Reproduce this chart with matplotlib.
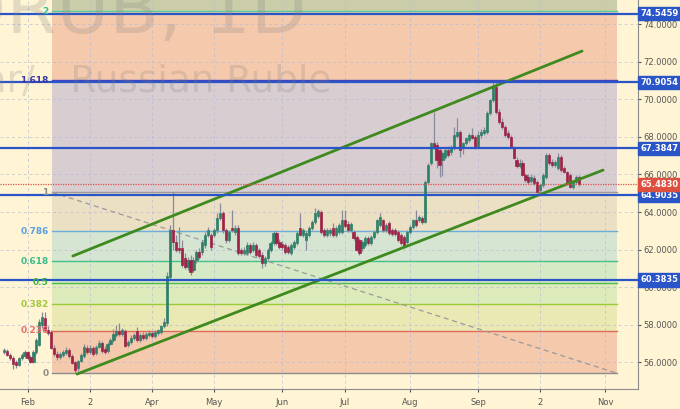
import numpy as np
import pandas as pd
import matplotlib
matplotlib.use("Agg")
import matplotlib.pyplot as plt
from matplotlib.transforms import blended_transform_factory

# ---------------- data ----------------
dates = pd.bdate_range("2018-01-22", periods=195)

opens = [56.55, 56.61, 56.39, 56.23, 56.02, 55.86, 56.23, 56.34, 56.55, 56.28,
         56.02, 56.55, 56.93, 57.99, 58.36, 57.72, 57.61, 56.77, 56.45, 56.28,
         56.39, 56.50, 56.66, 56.34, 56.02, 55.70, 56.07, 56.34, 56.77, 56.55,
         56.77, 56.50, 56.82, 57.03, 56.71, 56.61, 56.98, 57.19, 57.46, 57.67,
         57.51, 57.67, 56.93, 57.09, 57.30, 57.67, 57.19, 57.46, 57.30, 57.46,
         57.56, 57.40, 57.56, 57.61, 57.93, 58.10, 60.54, 63.04, 62.40, 62.08,
         62.08, 61.55, 61.07, 61.45, 60.91, 61.45, 61.87, 61.87, 62.24, 62.78,
         62.78, 62.78, 63.04, 63.68, 63.95, 63.04, 62.51, 63.15, 62.94, 63.15,
         61.98, 61.82, 61.82, 62.24, 61.98, 62.24, 61.98, 61.71, 61.29, 61.55,
         61.98, 62.35, 62.88, 62.40, 62.30, 62.24, 62.14, 61.82, 62.14, 62.35,
         63.15, 62.78, 62.51, 62.78, 63.15, 63.47, 63.79, 64.00, 63.04, 62.78,
         62.88, 63.15, 62.78, 62.94, 62.94, 63.57, 63.36, 63.04, 62.94, 62.67,
         62.51, 62.08, 62.24, 62.62, 62.35, 62.67, 62.94, 63.31, 63.57, 63.04,
         63.41, 63.04, 63.04, 62.94, 62.78, 62.67, 62.40, 62.94, 63.20, 63.57,
         63.57, 63.68, 63.47, 65.60, 66.61, 67.67, 67.56, 67.30, 66.77, 66.93,
         67.30, 67.19, 67.40, 68.04, 68.26, 67.40, 67.67, 67.83, 68.10, 67.99,
         67.46, 68.10, 68.20, 68.26, 69.27, 69.96, 70.65, 69.32, 68.79, 68.52,
         68.20, 67.99, 67.40, 66.77, 66.45, 66.61, 65.97, 65.86, 65.65, 65.80,
         65.60, 65.17, 65.44, 65.86, 67.03, 66.66, 66.50, 66.34, 66.93, 66.34,
         66.13, 65.97, 65.33, 65.60, 65.86]

highs = [56.75, 56.70, 56.50, 56.35, 56.15, 56.30, 56.50, 56.65, 56.62, 56.40,
         56.65, 57.30, 58.30, 58.70, 58.70, 57.95, 57.70, 56.90, 56.60, 56.55,
         56.65, 56.80, 56.75, 56.45, 56.10, 56.15, 56.50, 57.00, 56.90, 56.90,
         56.85, 56.95, 57.20, 57.15, 56.85, 57.10, 57.30, 57.80, 58.00, 58.10,
         57.85, 57.80, 57.20, 57.45, 57.55, 57.90, 57.55, 57.60, 57.60, 57.70,
         57.65, 57.70, 57.80, 58.00, 58.35, 60.80, 63.30, 65.05, 62.80, 63.20,
         62.50, 61.80, 61.60, 61.70, 61.60, 62.00, 62.10, 62.50, 62.95, 63.20,
         62.90, 63.15, 63.95, 64.50, 64.05, 63.15, 63.05, 64.10, 63.30, 63.30,
         62.10, 62.15, 62.40, 62.35, 62.40, 62.35, 62.10, 61.85, 61.65, 62.10,
         62.45, 63.00, 63.00, 62.55, 62.45, 62.35, 62.25, 62.35, 62.50, 63.00,
         63.95, 63.15, 63.00, 63.25, 63.55, 64.20, 64.15, 64.10, 63.15, 63.15,
         63.15, 63.40, 63.25, 63.40, 64.10, 64.10, 63.50, 63.45, 63.05, 62.80,
         62.60, 62.50, 62.70, 62.75, 62.80, 63.05, 63.65, 63.95, 63.65, 63.40,
         63.50, 63.15, 63.15, 63.05, 62.90, 62.80, 63.05, 63.30, 63.65, 64.10,
         63.85, 63.80, 65.70, 66.60, 67.75, 69.32, 67.75, 67.45, 67.25, 67.40,
         67.50, 67.55, 68.50, 69.00, 68.35, 67.75, 68.00, 68.20, 68.47, 68.10,
         68.30, 68.40, 68.50, 69.35, 70.00, 70.90, 70.95, 69.50, 69.00, 68.65,
         68.35, 68.10, 67.50, 66.90, 66.80, 66.75, 66.10, 66.00, 66.00, 65.95,
         65.70, 65.50, 66.05, 67.14, 67.14, 66.80, 66.75, 67.14, 67.05, 66.45,
         66.20, 66.10, 65.65, 65.95, 65.95]

lows = [56.45, 56.35, 56.15, 55.65, 55.70, 55.80, 56.15, 56.25, 56.15, 55.95,
        55.95, 56.45, 56.85, 57.85, 57.60, 57.45, 56.70, 56.35, 56.15, 56.20,
        56.30, 56.40, 56.25, 55.90, 55.44, 55.55, 56.00, 56.25, 56.45, 56.45,
        56.35, 56.40, 56.75, 56.50, 56.45, 56.50, 56.90, 57.10, 57.35, 57.40,
        57.40, 56.80, 56.80, 57.00, 57.20, 57.10, 57.10, 57.20, 57.20, 57.35,
        57.30, 57.30, 57.45, 57.50, 57.85, 57.95, 60.40, 62.00, 61.85, 61.80,
        61.05, 60.95, 60.90, 60.65, 60.80, 61.30, 61.50, 61.70, 62.10, 62.65,
        62.00, 62.65, 62.90, 63.55, 62.90, 62.35, 62.40, 62.95, 62.80, 61.70,
        61.70, 61.70, 61.70, 61.75, 61.85, 61.60, 61.55, 61.02, 61.15, 61.45,
        61.85, 62.25, 62.25, 62.05, 62.00, 61.75, 61.75, 61.70, 62.05, 62.25,
        62.70, 62.65, 61.98, 62.65, 63.05, 63.35, 63.70, 62.85, 62.65, 62.65,
        62.75, 62.65, 62.65, 62.85, 62.85, 63.15, 62.95, 62.95, 62.50, 61.90,
        61.70, 61.95, 62.15, 62.25, 62.25, 62.55, 62.85, 63.20, 62.95, 62.95,
        62.80, 62.75, 62.75, 62.40, 62.25, 62.10, 62.30, 62.85, 63.10, 63.20,
        63.45, 63.35, 63.40, 65.50, 66.50, 67.35, 66.34, 65.86, 65.90, 66.80,
        66.95, 67.05, 67.30, 67.95, 66.93, 67.10, 67.55, 67.70, 67.90, 67.35,
        67.40, 67.95, 68.10, 68.15, 69.15, 69.85, 69.20, 68.70, 68.40, 68.00,
        67.90, 67.40, 66.80, 66.35, 66.35, 65.90, 65.60, 65.50, 65.55, 65.45,
        65.00, 65.05, 65.35, 65.75, 66.50, 66.40, 66.40, 66.25, 66.15, 66.05,
        65.55, 65.28, 65.25, 65.50, 65.40]

closes = [56.66, 56.39, 56.23, 55.91, 55.86, 56.23, 56.39, 56.55, 56.23, 56.02,
          56.55, 57.19, 58.15, 58.41, 57.72, 57.56, 56.77, 56.45, 56.28, 56.45,
          56.55, 56.66, 56.34, 55.97, 55.60, 56.07, 56.39, 56.82, 56.55, 56.77,
          56.45, 56.82, 57.03, 56.61, 56.55, 56.98, 57.19, 57.51, 57.67, 57.51,
          57.72, 56.87, 57.09, 57.30, 57.46, 57.19, 57.46, 57.30, 57.51, 57.56,
          57.40, 57.61, 57.72, 57.93, 58.15, 60.59, 63.04, 62.40, 61.98, 61.98,
          61.18, 61.07, 61.45, 60.81, 61.45, 61.87, 61.61, 62.40, 62.78, 63.04,
          62.14, 63.04, 63.68, 63.95, 63.04, 62.51, 62.94, 63.04, 63.15, 61.82,
          61.82, 61.98, 62.24, 61.87, 62.24, 61.71, 61.66, 61.29, 61.55, 61.98,
          62.35, 62.88, 62.35, 62.14, 62.14, 61.87, 61.87, 62.24, 62.40, 62.88,
          62.78, 63.04, 62.88, 63.15, 63.47, 63.95, 64.05, 62.94, 62.78, 63.04,
          63.04, 62.78, 63.15, 63.31, 63.57, 63.25, 63.04, 63.36, 62.62, 61.98,
          61.82, 62.40, 62.62, 62.35, 62.67, 62.94, 63.57, 63.73, 63.04, 63.31,
          62.88, 62.83, 62.83, 62.51, 62.35, 62.24, 62.94, 63.20, 63.57, 63.31,
          63.73, 63.47, 65.60, 66.50, 67.67, 67.46, 66.77, 66.50, 67.14, 67.30,
          67.03, 67.46, 68.10, 68.26, 67.30, 67.67, 67.94, 68.10, 67.94, 67.46,
          68.10, 68.26, 68.36, 69.27, 69.96, 70.65, 69.32, 68.79, 68.52, 68.10,
          67.99, 67.46, 66.87, 66.45, 66.61, 65.97, 65.70, 65.60, 65.86, 65.54,
          65.06, 65.44, 65.97, 67.03, 66.61, 66.50, 66.66, 66.93, 66.23, 66.13,
          65.60, 65.33, 65.60, 65.86, 65.48]

# Fibonacci retracement (price of level 0 and level 1, anchors as bar positions)
fib_price0 = 55.42
fib_price1 = 65.05
fib_x_start = 16.3
fib_x_end = 206.9
fib_levels = [0, 0.236, 0.382, 0.5, 0.618, 0.786, 1, 1.618, 2]
fib_labels = ["0", "0.236", "0.382", "0.5", "0.618", "0.786", "1", "1.618", "2"]

# horizontal levels and last price
h_levels = [74.5459, 70.9054, 67.3847, 64.9035, 60.3835]
last_price = 65.4830

# channel trend lines (bar position, price)
channel_upper = [(23.3, 61.66), (195.1, 72.56)]
channel_lower = [(24.7, 55.38), (202.2, 66.23)]

price_ticks = [56, 58, 60, 62, 64, 66, 68, 70, 72, 74]
month_tick_dates = ["2018-02-01", "2018-03-02", "2018-04-02", "2018-05-01", "2018-06-01",
                    "2018-07-02", "2018-08-01", "2018-09-03", "2018-10-02", "2018-11-01"]
month_tick_labels = ["Feb", "2", "Apr", "May", "Jun", "Jul", "Aug", "Sep", "2", "Nov"]

# ---------------- style ----------------
BG = "#FFF4D3"
fill_colors = ["#F5C9AB", "#EAE8B3", "#DDEBBB", "#D6EAC6", "#D5E5D2",
               "#EBDFC4", "#D8CDD0", "#F5C9AB"]
fill_top = "#CACDA8"
fib_line_colors = ["#8C8C8C", "#E06A5E", "#9CCB3A", "#4CBB4C", "#44C08A",
                   "#6AAEDC", "#9A9A9A", "#4444BB", "#55CC99"]
fib_text_colors = ["#8C8C8C", "#E86F6F", "#A2C83E", "#3DB643", "#3DBB8C",
                   "#5AA0E0", "#8C8C8C", "#3A3AA8", "#33BB99"]
BLUE = "#2A55C9"
GREEN_C = "#2F8068"
RED_C = "#9E2346"

fig = plt.figure(figsize=(6.8, 4.09), dpi=100)
fig.patch.set_facecolor(BG)
ax = fig.add_axes([0, 20 / 409, 638 / 680, 389 / 409])
ax.set_facecolor(BG)

xmin, xmax = -1.28, 213.97
ymin, ymax = 54.585, 75.277
ax.set_xlim(xmin, xmax)
ax.set_ylim(ymin, ymax)

# fib fills
fib_prices = [fib_price0 + l * (fib_price1 - fib_price0) for l in fib_levels]
for k in range(len(fib_prices) - 1):
    ax.fill_between([fib_x_start, fib_x_end], fib_prices[k], fib_prices[k + 1],
                    color=fill_colors[k], lw=0, zorder=1)
ax.fill_between([fib_x_start, fib_x_end], fib_prices[-1], ymax,
                color=fill_top, lw=0, zorder=1)

# grid
all_days = pd.bdate_range("2018-01-22", "2018-11-30")
month_pos = [all_days.get_loc(pd.Timestamp(d)) for d in month_tick_dates]
for p in price_ticks:
    ax.axhline(p, color="#B9BCD6", lw=0.7, ls=(0, (3, 3)), alpha=0.7, zorder=1.5)
for m in month_pos:
    ax.axvline(m, color="#B9BCD6", lw=0.7, ls=(0, (3, 3)), alpha=0.7, zorder=1.5)

# watermark
fig.text(306 / 680, 1 - 33 / 409, "USDRUB, 1D", ha="right", va="baseline",
         fontsize=52, color="#7F7F7F", alpha=0.22, zorder=2)
fig.text(331 / 680, 1 - 92 / 409, "U.S. Dollar/   Russian Ruble", ha="right",
         va="baseline", fontsize=27, color="#7F7F7F", alpha=0.22, zorder=2)

# fib lines + labels
for k, (lv, pr) in enumerate(zip(fib_labels, fib_prices)):
    ax.plot([fib_x_start, fib_x_end], [pr, pr], color=fib_line_colors[k], lw=1.0, zorder=3)
    ax.text(fib_x_start - 1.2, pr, lv, ha="right", va="center", fontsize=6.5,
            fontweight="bold", color=fib_text_colors[k], zorder=7)
ax.plot([fib_x_start, fib_x_end], [fib_price1, fib_price0], color="#9A9A9A",
        lw=0.9, ls=(0, (4, 3)), zorder=3)

# candles
x = np.arange(len(opens))
o = np.array(opens); h = np.array(highs); l = np.array(lows); c = np.array(closes)
up = c >= o
ax.vlines(x, l, h, color="#8A8A9C", lw=0.9, zorder=4)
body_bottom = np.minimum(o, c)
body_height = np.maximum(np.abs(c - o), 0.05)
ax.bar(x[up], body_height[up], bottom=body_bottom[up], width=0.72,
       color=GREEN_C, edgecolor=GREEN_C, lw=0.5, zorder=4.5)
ax.bar(x[~up], body_height[~up], bottom=body_bottom[~up], width=0.72,
       color=RED_C, edgecolor=RED_C, lw=0.5, zorder=4.5)

# channel lines
for ln in (channel_upper, channel_lower):
    ax.plot([ln[0][0], ln[1][0]], [ln[0][1], ln[1][1]], color="#3F8A1F",
            lw=2.0, solid_capstyle="round", zorder=5)

# horizontal levels
for hl in h_levels:
    ax.axhline(hl, color=BLUE, lw=1.6, zorder=6)
ax.axhline(last_price, color="#D9534F", lw=0.9, ls=(0, (1, 1)), zorder=6)

# axes styling
for s in ["top", "left"]:
    ax.spines[s].set_visible(False)
for s in ["right", "bottom"]:
    ax.spines[s].set_color("#8C8C8C")
    ax.spines[s].set_linewidth(0.8)
ax.yaxis.tick_right()
ax.set_yticks(price_ticks)
ax.set_yticklabels([f"{p:.4f}" for p in price_ticks])
ax.tick_params(axis="y", direction="out", length=2.5, pad=1.5, labelsize=6,
               colors="#555555")
ax.set_xticks(month_pos)
ax.set_xticklabels(month_tick_labels)
ax.tick_params(axis="x", direction="out", length=2.5, pad=4, labelsize=6,
               colors="#555555")

# right price boxes
tr = blended_transform_factory(ax.transAxes, ax.transData)
for hl in h_levels:
    ax.text(1.004, hl, f"{hl:.4f}", transform=tr, ha="left", va="center",
            fontsize=6, color="white", fontweight="bold", zorder=10, clip_on=False,
            bbox=dict(boxstyle="square,pad=0.25", fc=BLUE, ec=BLUE))
ax.text(1.004, last_price, f"{last_price:.4f}", transform=tr, ha="left", va="center",
        fontsize=6, color="white", fontweight="bold", zorder=10, clip_on=False,
        bbox=dict(boxstyle="square,pad=0.25", fc="#DD5040", ec="#DD5040"))

fig.savefig("out.png", dpi=100, facecolor=BG)
